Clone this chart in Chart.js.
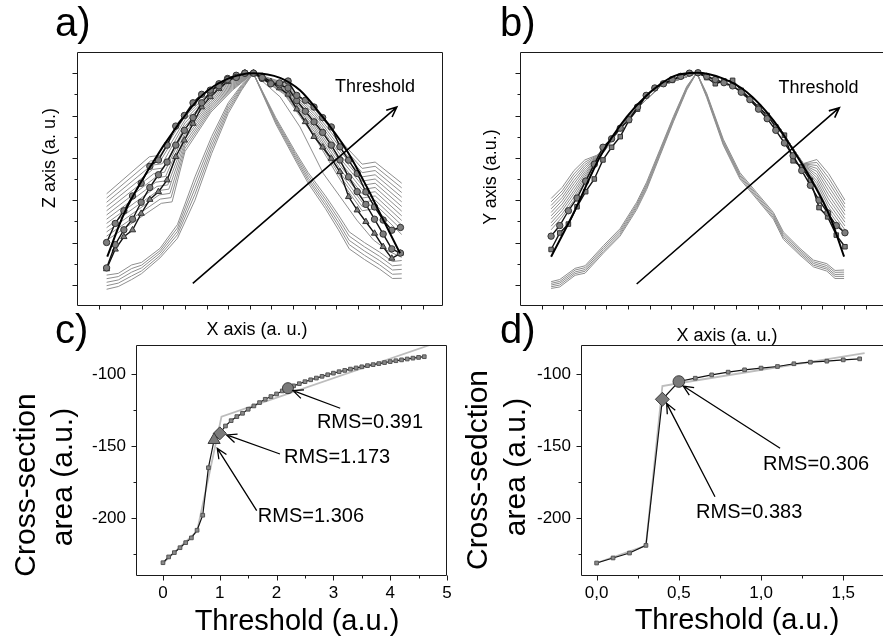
<!DOCTYPE html>
<html><head><meta charset="utf-8">
<script src="https://cdn.jsdelivr.net/npm/chart.js@4.4.0/dist/chart.umd.min.js"></script>
<style>
html,body{margin:0;padding:0;background:#fff;overflow:hidden;width:883px;height:644px;}
#wrap{position:relative;width:883px;height:644px;overflow:hidden;font-family:"Liberation Sans",Arial,sans-serif;color:#000;}
canvas{position:absolute;}
.t{position:absolute;white-space:nowrap;line-height:1;}
.rot{transform:translate(-50%,-50%) rotate(-90deg);}
.ctr{transform:translateX(-50%);}
</style></head>
<body><div id="wrap">
<canvas id="chA" width="420" height="280" style="left:40px;top:40px"></canvas>
<canvas id="chB" width="420" height="280" style="left:480px;top:40px"></canvas>
<canvas id="chC" width="470" height="314" style="left:0px;top:330px"></canvas>
<canvas id="chD" width="440" height="314" style="left:460px;top:330px"></canvas>

<div class="t" style="left:55px;top:2px;font-size:40px">a)</div>
<div class="t" style="left:500px;top:2px;font-size:40px">b)</div>
<div class="t" style="left:55px;top:309px;font-size:40px">c)</div>
<div class="t" style="left:500px;top:309px;font-size:40px">d)</div>

<div class="t rot" style="left:49px;top:158px;font-size:18px">Z axis (a. u.)</div>
<div class="t ctr" style="left:257px;top:320px;font-size:18px">X axis (a. u.)</div>
<div class="t rot" style="left:490px;top:177px;font-size:18px">Y axis (a.u.)</div>
<div class="t ctr" style="left:727px;top:326px;font-size:18px">X axis (a. u.)</div>

<div class="t rot" style="left:25px;top:485px;font-size:30px">Cross-section</div>
<div class="t rot" style="left:62px;top:477px;font-size:30px">area (a.u.)</div>
<div class="t ctr" style="left:297px;top:606px;font-size:29px">Threshold (a.u.)</div>

<div class="t rot" style="left:477px;top:470px;font-size:30px">Cross-sedction</div>
<div class="t rot" style="left:515px;top:467px;font-size:30px">area (a.u.)</div>
<div class="t ctr" style="left:737px;top:605px;font-size:29px">Threshold (a.u.)</div>
</div>
<script>
// ================= DATA =================
// ---- panel a ----
const aProfileX = [1.37,1.77,2.17,2.57,2.97,3.37,3.77,4.17,4.57,4.97,5.37,5.77,6.17,6.57,6.97,7.37,7.77,8.17,8.57,8.97,9.37,9.77,10.17,10.57,10.97,11.37,11.77,12.17,12.57,12.97,13.37,13.77,14.17,14.57,14.97];
const aOuterCircles = [3.0,3.9,4.5,5.2,5.8,6.6,6.9,7.6,8.5,9.0,9.6,10.0,10.2,10.4,10.7,10.8,11.0,11.0,10.79,10.5,10.54,10.63,9.95,9.72,9.4,8.9,8.46,7.52,6.89,6.26,5.39,4.68,4.06,3.58,3.71];
const aInnerCircles = [1.8,2.9,3.6,4.1,4.9,5.6,6.2,6.8,7.6,8.3,8.9,9.6,10.1,10.5,10.75,10.9,11.0,11.0,10.75,10.5,10.45,10.3,9.7,9.2,8.7,8.2,7.6,6.9,6.1,5.4,4.8,4.1,3.4,2.7,2.5];
const aTriangles = [1.75,2.68,3.27,3.59,4.37,5.03,5.40,5.95,7.05,7.83,8.62,9.4,9.88,10.27,10.6,10.85,11.0,11.0,10.85,10.6,10.3,10.0,9.3,8.7,8.0,7.5,6.97,6.34,5.16,4.53,3.98,3.43,2.8,2.25,2.49];
const aFitX = [1.40,2.18,3.38,4.61,5.79,6.99,8.16,9.40,10.32,11.25,12.48,13.41,14.18,14.95];
const aFitY = [2.33,4.37,6.57,8.46,9.95,10.74,11.0,10.78,10.19,9.09,7.36,5.63,4.06,2.49];
const aNarrowX = [1.37,1.91,2.53,2.99,3.84,4.65,5.46,6.23,7.0,7.62,8.16,9.2,10.1,10.7,11.5,12.1,12.6,13.3,14.0,14.6,15.03];
const aNarrowLines = [
  [1.46,1.54,1.94,2.06,2.72,3.85,6.1,8.0,9.6,10.45,11.0,8.9,7.3,6.3,5.2,4.3,3.5,3.0,2.55,2.1,2.15],
  [1.29,1.39,1.77,1.93,2.61,3.69,5.83,7.8,9.48,10.39,11.0,8.82,7.2,6.18,5.05,4.13,3.3,2.8,2.35,1.9,1.94],
  [1.12,1.23,1.6,1.8,2.5,3.53,5.55,7.6,9.35,10.33,11.0,8.75,7.1,6.05,4.9,3.95,3.1,2.6,2.15,1.7,1.73],
  [0.96,1.08,1.42,1.66,2.38,3.37,5.28,7.4,9.23,10.26,11.0,8.68,7.0,5.93,4.75,3.78,2.9,2.4,1.95,1.5,1.52],
  [0.79,0.92,1.25,1.53,2.27,3.2,5.0,7.2,9.1,10.2,11.0,8.6,6.9,5.8,4.6,3.6,2.7,2.2,1.75,1.3,1.31]
];
const aLoneX = [8.16,9.4,10.32,11.4,12.18,12.95,13.72,14.4,15.03];
const aLoneY = [11.0,9.88,8.46,6.26,5.16,4.06,3.12,2.6,2.3];
const aLeftHatch = [
  [[1.37,5.30],[3.35,7.05],[3.85,7.12],[5.0,8.95],[6.2,10.15],[7.2,10.75],[8.16,11.0]],
  [[1.37,5.10],[3.40,6.85],[3.90,6.92],[5.0,8.80],[6.2,10.06],[7.2,10.70],[8.16,11.0]],
  [[1.37,4.90],[3.45,6.65],[3.95,6.72],[5.0,8.65],[6.2,9.97],[7.2,10.65],[8.16,11.0]],
  [[1.37,4.70],[3.50,6.45],[4.00,6.52],[5.0,8.50],[6.2,9.88],[7.2,10.60],[8.16,11.0]],
  [[1.37,4.50],[3.55,6.25],[4.05,6.32],[5.0,8.35],[6.2,9.79],[7.2,10.55],[8.16,11.0]],
  [[1.37,4.30],[3.60,6.05],[4.10,6.12],[5.0,8.20],[6.2,9.70],[7.2,10.50],[8.16,11.0]],
  [[1.37,4.10],[3.65,5.85],[4.15,5.92],[5.0,8.05],[6.2,9.61],[7.2,10.45],[8.16,11.0]],
  [[1.37,3.90],[3.70,5.65],[4.20,5.72],[5.0,7.90],[6.2,9.52],[7.2,10.40],[8.16,11.0]],
  [[1.37,3.70],[3.75,5.45],[4.25,5.52],[5.0,7.75],[6.2,9.43],[7.2,10.35],[8.16,11.0]],
  [[1.37,3.50],[3.80,5.25],[4.30,5.32],[5.0,7.60],[6.2,9.34],[7.2,10.30],[8.16,11.0]],
  [[1.37,3.30],[3.85,5.05],[4.35,5.12],[5.0,7.45],[6.2,9.25],[7.2,10.25],[8.16,11.0]],
  [[1.37,3.10],[3.90,4.85],[4.40,4.92],[5.0,7.30],[6.2,9.16],[7.2,10.20],[8.16,11.0]]
];
const aRightHatchX = [8.16,9.6,11.0,12.2,13.2,13.8,15.03];
const aRightHatch = [
  [11.0,10.55,9.30,7.80,6.70,6.80,5.80],
  [11.0,10.50,9.18,7.63,6.50,6.60,5.58],
  [11.0,10.45,9.06,7.46,6.30,6.40,5.36],
  [11.0,10.40,8.94,7.29,6.10,6.20,5.14],
  [11.0,10.35,8.82,7.12,5.90,6.00,4.92],
  [11.0,10.30,8.70,6.95,5.70,5.80,4.70],
  [11.0,10.25,8.58,6.78,5.50,5.60,4.48],
  [11.0,10.20,8.46,6.61,5.30,5.40,4.26],
  [11.0,10.15,8.34,6.44,5.10,5.20,4.04],
  [11.0,10.10,8.22,6.27,4.90,5.00,3.82],
  [11.0,10.05,8.10,6.10,4.70,4.80,3.60],
  [11.0,10.00,7.98,5.93,4.50,4.60,3.38]
];
const aArrowFrom = [5.36,1.07], aArrowTo = [14.8,9.4];
const aLabelPos = [11.94,10.12];

// ---- panel b ----
const bProfileX = [1.44,1.84,2.24,2.64,3.04,3.44,3.84,4.24,4.64,5.04,5.44,5.84,6.24,6.64,7.04,7.44,7.84,8.24,8.64,9.04,9.44,9.84,10.24,10.64,11.04,11.44,11.84,12.24,12.64,13.04,13.44,13.84,14.24,14.64,15.04];
const bCircles = [3.3,3.8,4.5,5.1,5.9,6.7,7.5,7.9,8.4,8.8,9.4,9.95,10.3,10.5,10.7,10.85,11.0,11.02,10.85,10.7,10.55,10.4,10.1,9.75,9.3,8.85,8.3,7.7,7.1,6.4,5.7,5.0,4.4,3.8,3.46];
const bSquares = [2.67,3.45,3.87,4.69,5.4,6.0,6.9,7.5,8.0,8.77,9.3,9.95,10.3,10.5,10.66,10.85,11.0,11.02,10.79,10.5,10.63,10.66,10.19,9.8,9.4,9.01,8.46,8.07,6.86,6.57,5.94,4.65,4.21,3.35,2.8];
const bFitX = [1.44,2.47,3.70,4.94,5.86,7.1,8.18,9.41,10.49,11.73,12.65,13.58,14.35,15.0];
const bFitY = [2.33,4.37,7.04,8.93,9.95,10.85,11.02,10.74,10.11,8.77,7.36,5.79,4.21,2.33];
const bNarrowX = [1.44,1.84,2.55,3.01,3.86,4.63,5.4,5.86,6.48,7.1,7.72,8.18,8.64,9.41,10.18,10.96,11.73,12.19,12.96,13.58,14.2,14.58,15.0];
const bNarrowLines = [
  [1.15,1.25,1.78,1.9,2.85,3.65,4.9,5.85,7.4,8.95,10.38,11.02,10.05,7.88,6.3,5.35,4.42,3.5,2.72,2.17,2.0,1.68,1.7],
  [1.07,1.16,1.70,1.81,2.76,3.56,4.81,5.76,7.33,8.89,10.34,11.02,10.0,7.81,6.22,5.27,4.34,3.41,2.64,2.09,1.91,1.59,1.6],
  [0.99,1.08,1.61,1.72,2.67,3.47,4.72,5.67,7.25,8.82,10.29,11.02,9.95,7.74,6.15,5.2,4.26,3.32,2.56,2.01,1.82,1.49,1.5],
  [0.91,0.99,1.53,1.64,2.58,3.38,4.64,5.59,7.18,8.76,10.25,11.02,9.9,7.67,6.08,5.12,4.18,3.24,2.48,1.93,1.74,1.4,1.4],
  [0.83,0.9,1.45,1.55,2.5,3.3,4.55,5.5,7.1,8.7,10.2,11.02,9.85,7.6,6.0,5.05,4.1,3.15,2.4,1.85,1.65,1.3,1.3]
];
const bLeftHatchX = [1.44,1.95,2.5,3.0,3.55,3.9,5.0,6.5,8.2];
const bLeftHatch = [
  [5.08,5.60,6.40,6.90,7.12,7.40,8.9,10.4,11.0],
  [4.92,5.44,6.24,6.79,7.10,7.39,8.9,10.4,11.0],
  [4.75,5.29,6.09,6.68,7.07,7.38,8.9,10.4,11.0],
  [4.59,5.13,5.93,6.57,7.05,7.37,8.9,10.4,11.0],
  [4.42,4.98,5.78,6.46,7.02,7.36,8.9,10.4,11.0],
  [4.26,4.82,5.62,6.34,7.00,7.35,8.9,10.4,11.0],
  [4.10,4.66,5.46,6.23,6.98,7.34,8.9,10.4,11.0],
  [3.93,4.51,5.31,6.12,6.95,7.33,8.9,10.4,11.0],
  [3.77,4.35,5.15,6.01,6.93,7.32,8.9,10.4,11.0],
  [3.60,4.20,5.00,5.90,6.90,7.30,8.9,10.4,11.0]
];
const bRightHatchX = [8.2,10.0,12.0,12.6,13.12,13.74,14.28,15.04];
const bRightHatch = [
  [11.0,10.3,8.45,7.5,6.73,6.92,6.26,5.00],
  [11.0,10.3,8.45,7.5,6.72,6.78,6.06,4.82],
  [11.0,10.3,8.45,7.5,6.71,6.64,5.86,4.65],
  [11.0,10.3,8.45,7.5,6.70,6.50,5.66,4.48],
  [11.0,10.3,8.45,7.5,6.68,6.36,5.46,4.31],
  [11.0,10.3,8.45,7.5,6.67,6.21,5.26,4.13],
  [11.0,10.3,8.45,7.5,6.66,6.07,5.06,3.96],
  [11.0,10.3,8.45,7.5,6.64,5.92,4.86,3.78],
  [11.0,10.3,8.45,7.5,6.62,5.78,4.68,3.60],
  [11.0,10.3,8.45,7.5,6.60,5.63,4.50,3.43]
];
const bArrowFrom = [5.4,1.04], bArrowTo = [14.78,9.37];
const bLabelPos = [11.96,10.05];

// shared tick values for a, b
const abXTicks = [1,2,3,4,5,6,7,8,9,10,11,12,13,14,15,16];
const abYMajor = [1,3,5,7,9,11];
const abYMinor = [2,4,6,8,10];

// ---- panel c ----
const cThreshold = [0,0.1,0.2,0.3,0.4,0.5,0.6,0.7,0.8,0.9,1.0,1.1,1.2,1.3,1.4,1.5,1.6,1.7,1.8,1.9,2.0,2.1,2.2,2.3,2.4,2.5,2.6,2.7,2.8,2.9,3.0,3.1,3.2,3.3,3.4,3.5,3.6,3.7,3.8,3.9,4.0,4.1,4.2,4.3,4.4,4.5,4.6];
const cArea = [-230.8,-226.8,-223.8,-220.4,-216.9,-213.6,-208.3,-197.9,-165.0,-145.8,-141.2,-136.1,-132.4,-129.6,-127.3,-124.5,-122.2,-119.9,-117.6,-115.7,-113.9,-111.8,-109.9,-108.3,-106.8,-105.4,-104.1,-102.9,-101.7,-100.6,-99.5,-98.5,-97.6,-96.7,-95.9,-95.1,-94.3,-93.6,-92.9,-92.2,-91.5,-90.9,-90.3,-89.7,-89.1,-88.6,-88.1];
const cFitX = [0,0.6,1.03,4.7];
const cFitY = [-231,-209,-129.6,-80];
const cTriangle = [0.9,-145.8], cDiamond = [1.0,-141.2], cCircle = [2.2,-109.9];
const cRmsText = ['RMS=0.391','RMS=1.173','RMS=1.306'];
const cRmsPos = [[2.71,-137.7],[2.13,-161.5],[1.67,-202.4]];
const cArrowFrom = [[3.12,-123.8],[2.06,-155.5],[1.65,-194.7]];
const cArrowTo = [[2.29,-111.6],[1.12,-142.3],[0.956,-151.6]];
const cXTicks = [0,1,2,3,4,5];
const cXMinor = [0.5,1.5,2.5,3.5,4.5];
const yTicksCD = [-200,-150,-100];
const yMinorCD = [-225,-175,-125];

// ---- panel d ----
const dThreshold = [0,0.1,0.2,0.3,0.4,0.5,0.6,0.7,0.8,0.9,1.0,1.1,1.2,1.3,1.4,1.5,1.6];
const dArea = [-231,-227.5,-224.1,-218.8,-117.6,-105.3,-103,-100.7,-98.8,-97.2,-96,-94.9,-93,-91.9,-91.2,-90.3,-89.6];
const dFitX = [0,0.3,0.4,0.5,1.63];
const dFitY = [-231,-219,-108.4,-106.5,-85.7];
const dDiamond = [0.4,-117.6], dCircle = [0.5,-105.3];
const dRmsText = ['RMS=0.306','RMS=0.383'];
const dRmsPos = [[1.012,-166.6],[0.605,-200.0]];
const dArrowFrom = [[1.116,-151.5],[0.72,-185.1]];
const dArrowTo = [[0.527,-108.4],[0.426,-120.4]];
const dXTicks = [0,0.5,1.0,1.5];
const dXTickLabels = ['0,0','0,5','1,0','1,5'];
const dXMinor = [0.25,0.75,1.25,1.75];

// ================= DRAWING =================
const FONT = '"Liberation Sans", Arial, sans-serif';
const GRAY = '#8e8e8e';
function xy(xs, ys) { return xs.map((x, i) => ({x: x, y: ys[i]})); }
function pairs(p) { return p.map(q => ({x: q[0], y: q[1]})); }

const decor = {
  id: 'decor',
  afterDatasetsDraw(chart, args, o) {
    const ctx = chart.ctx, a = chart.chartArea, sx = chart.scales.x, sy = chart.scales.y;
    ctx.save();
    ctx.strokeStyle = '#1a1a1a'; ctx.lineWidth = 1;
    const L = Math.round(a.left) + 0.5, T = Math.round(a.top) + 0.5;
    const R = Math.round(a.right) - 0.5, B = Math.round(a.bottom) - 0.5;
    ctx.beginPath();
    ctx.rect(L, T, R - L, B - T);
    const tx = (vals, len) => (vals || []).forEach(v => {
      const p = Math.round(sx.getPixelForValue(v)) + 0.5; ctx.moveTo(p, B); ctx.lineTo(p, B + len); });
    const ty = (vals, len) => (vals || []).forEach(v => {
      const p = Math.round(sy.getPixelForValue(v)) + 0.5; ctx.moveTo(L, p); ctx.lineTo(L - len, p); });
    tx(o.xMajor, o.xMajorLen); tx(o.xMinor, o.xMinorLen);
    ty(o.yMajor, o.yMajorLen); ty(o.yMinor, o.yMinorLen);
    ctx.stroke();
    // arrows
    ctx.strokeStyle = '#000';
    (o.arrows || []).forEach(ar => {
      const x1 = sx.getPixelForValue(ar.from[0]), y1 = sy.getPixelForValue(ar.from[1]);
      const x2 = sx.getPixelForValue(ar.to[0]), y2 = sy.getPixelForValue(ar.to[1]);
      const ang = Math.atan2(y2 - y1, x2 - x1), h = ar.head, sp = 0.42;
      ctx.lineWidth = ar.w;
      ctx.beginPath();
      ctx.moveTo(x1, y1); ctx.lineTo(x2, y2);
      ctx.moveTo(x2 - h * Math.cos(ang - sp), y2 - h * Math.sin(ang - sp));
      ctx.lineTo(x2, y2);
      ctx.lineTo(x2 - h * Math.cos(ang + sp), y2 - h * Math.sin(ang + sp));
      ctx.stroke();
    });
    // texts
    ctx.fillStyle = '#000'; ctx.textBaseline = 'alphabetic'; ctx.textAlign = 'left';
    (o.texts || []).forEach(t => {
      ctx.font = t.size + 'px ' + FONT;
      ctx.fillText(t.text, sx.getPixelForValue(t.pos[0]), sy.getPixelForValue(t.pos[1]));
    });
    ctx.restore();
  }
};

function grayLine(data) {
  return {data: data, showLine: true, borderColor: GRAY, borderWidth: 1, pointRadius: 0, order: 10};
}
function blackSeries(data, style, r) {
  return {data: data, showLine: true, borderColor: '#111', borderWidth: 1.4, pointStyle: style,
    pointRadius: r, pointBackgroundColor: '#7d7d7d', pointBorderColor: '#333', pointBorderWidth: 1, order: 2};
}
function fitLine(data) {
  return {data: data, showLine: true, borderColor: '#000', borderWidth: 2, pointRadius: 0,
    cubicInterpolationMode: 'monotone', order: 1};
}
function baseOptions(padding, scales, decorOpts) {
  return {
    responsive: false, animation: false, events: [],
    layout: {padding: padding},
    scales: scales,
    plugins: {legend: {display: false}, tooltip: {enabled: false}, decor: decorOpts}
  };
}
function hiddenScales(xMax) {
  return {
    x: {type: 'linear', min: 0, max: xMax, display: false},
    y: {type: 'linear', min: 0, max: 12, display: false}
  };
}

// ---- chart a ----
const aSets = [
  fitLine(xy(aFitX, aFitY)),
  blackSeries(xy(aProfileX, aOuterCircles), 'circle', 3.2),
  blackSeries(xy(aProfileX, aInnerCircles), 'circle', 3.2),
  blackSeries(xy(aProfileX, aTriangles), 'triangle', 3.6)
];
aNarrowLines.forEach(r => aSets.push(grayLine(xy(aNarrowX, r))));
aSets.push(grayLine(xy(aLoneX, aLoneY)));
aLeftHatch.forEach(l => aSets.push(grayLine(pairs(l))));
aRightHatch.forEach(r => aSets.push(grayLine(xy(aRightHatchX, r))));
new Chart(document.getElementById('chA'), {
  type: 'scatter',
  data: {datasets: aSets},
  options: baseOptions({left: 37, top: 12, right: 17, bottom: 14}, hiddenScales(16.94), {
    xMajor: abXTicks, xMajorLen: 4, yMajor: abYMajor, yMajorLen: 5, yMinor: abYMinor, yMinorLen: 3,
    arrows: [{from: aArrowFrom, to: aArrowTo, w: 1.6, head: 11}],
    texts: [{text: 'Threshold', pos: aLabelPos, size: 18}]
  }),
  plugins: [decor]
});

// ---- chart b ----
const bSets = [
  fitLine(xy(bFitX, bFitY)),
  blackSeries(xy(bProfileX, bCircles), 'circle', 3.2),
  blackSeries(xy(bProfileX, bSquares), 'rect', 3.2)
];
bNarrowLines.forEach(r => bSets.push(grayLine(xy(bNarrowX, r))));
bLeftHatch.forEach(r => bSets.push(grayLine(xy(bLeftHatchX, r))));
bRightHatch.forEach(r => bSets.push(grayLine(xy(bRightHatchX, r))));
new Chart(document.getElementById('chB'), {
  type: 'scatter',
  data: {datasets: bSets},
  options: baseOptions({left: 40, top: 12, right: 14, bottom: 14}, hiddenScales(16.94), {
    xMajor: abXTicks, xMajorLen: 4, yMajor: abYMajor, yMajorLen: 5, yMinor: abYMinor, yMinorLen: 3,
    arrows: [{from: bArrowFrom, to: bArrowTo, w: 1.6, head: 11}],
    texts: [{text: 'Threshold', pos: bLabelPos, size: 18}]
  }),
  plugins: [decor]
});

// ---- c, d scales ----
function cdScales(xMin, xMax, xTicks, xLabels) {
  return {
    x: {
      type: 'linear', min: xMin, max: xMax,
      grid: {display: false, drawTicks: false}, border: {display: false},
      afterBuildTicks: ax => { ax.ticks = xTicks.map(v => ({value: v})); },
      afterFit: s => { s.height = 30; s.paddingLeft = 0; s.paddingRight = 0; s.paddingTop = 0; s.paddingBottom = 0; },
      ticks: {autoSkip: false, maxRotation: 0, padding: 7, color: '#000', font: {family: FONT, size: 17},
        callback: (v, i) => xLabels ? xLabels[i] : String(v)}
    },
    y: {
      type: 'linear', min: -240, max: -80,
      grid: {display: false, drawTicks: false}, border: {display: false},
      afterBuildTicks: ax => { ax.ticks = yTicksCD.map(v => ({value: v})); },
      afterFit: s => { s.width = 56; s.paddingLeft = 0; s.paddingRight = 0; s.paddingTop = 0; s.paddingBottom = 0; },
      ticks: {autoSkip: false, padding: 10, color: '#000', font: {family: FONT, size: 17},
        callback: v => String(v)}
    }
  };
}
function bigMarker(pt, style, r) {
  return {data: [{x: pt[0], y: pt[1]}], pointStyle: style, pointRadius: r,
    pointBackgroundColor: '#7a7a7a', pointBorderColor: '#3a3a3a', pointBorderWidth: 1, order: 0};
}
function squareSeries(data) {
  return {data: data, showLine: true, borderColor: '#111', borderWidth: 1.2, pointStyle: 'rect',
    pointRadius: 2.6, pointBackgroundColor: '#8a8a8a', pointBorderColor: '#555', pointBorderWidth: 1, order: 2};
}
function lightLine(data) {
  return {data: data, showLine: true, borderColor: '#bdbdbd', borderWidth: 1.8, pointRadius: 0, order: 5};
}

// ---- chart c ----
new Chart(document.getElementById('chC'), {
  type: 'scatter',
  data: {datasets: [
    bigMarker(cTriangle, 'triangle', 7),
    bigMarker(cDiamond, 'rectRot', 6.5),
    bigMarker(cCircle, 'circle', 5.5),
    squareSeries(xy(cThreshold, cArea)),
    lightLine(xy(cFitX, cFitY))
  ]},
  options: baseOptions({left: 80, top: 15, right: 23, bottom: 38}, cdScales(-0.475, 5, cXTicks, null), {
    xMajor: cXTicks, xMajorLen: 5, xMinor: cXMinor, xMinorLen: 3,
    yMajor: yTicksCD, yMajorLen: 5, yMinor: yMinorCD, yMinorLen: 3,
    arrows: cArrowFrom.map((f, i) => ({from: f, to: cArrowTo[i], w: 1.3, head: 11})),
    texts: cRmsText.map((t, i) => ({text: t, pos: cRmsPos[i], size: 20}))
  }),
  plugins: [decor]
});

// ---- chart d ----
new Chart(document.getElementById('chD'), {
  type: 'scatter',
  data: {datasets: [
    bigMarker(dDiamond, 'rectRot', 7),
    bigMarker(dCircle, 'circle', 5.8),
    squareSeries(xy(dThreshold, dArea)),
    lightLine(xy(dFitX, dFitY))
  ]},
  options: baseOptions({left: 65, top: 15, right: 14, bottom: 38}, cdScales(-0.095, 1.76, dXTicks, dXTickLabels), {
    xMajor: dXTicks, xMajorLen: 5, xMinor: dXMinor, xMinorLen: 3,
    yMajor: yTicksCD, yMajorLen: 5, yMinor: yMinorCD, yMinorLen: 3,
    arrows: dArrowFrom.map((f, i) => ({from: f, to: dArrowTo[i], w: 1.3, head: 11})),
    texts: dRmsText.map((t, i) => ({text: t, pos: dRmsPos[i], size: 20}))
  }),
  plugins: [decor]
});
</script>
</body></html>
